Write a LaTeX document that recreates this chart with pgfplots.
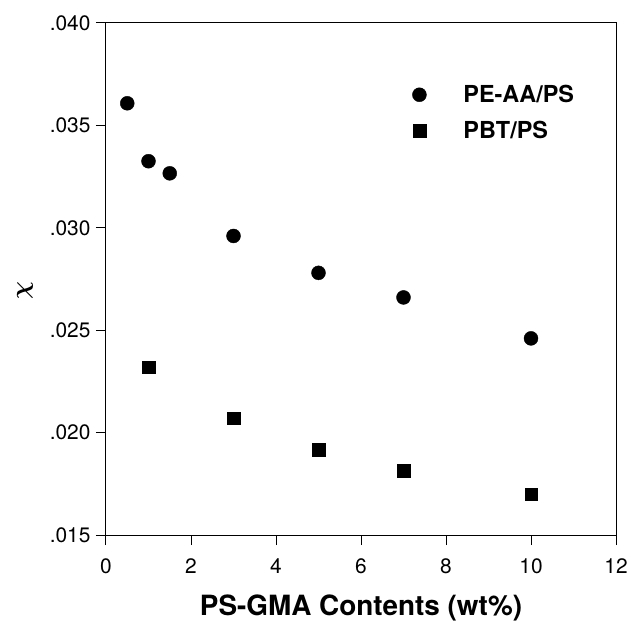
\documentclass[border=0pt]{standalone}
\usepackage{pgfplots}
\pgfplotsset{compat=1.18}
\usepackage{fontspec}
\usepackage{bm}
\setmainfont{TeX Gyre Heros}

\begin{document}
\begin{tikzpicture}[x=1bp,y=1bp]
  % fixed page size, same proportions as the original scan
  \useasboundingbox (-106,-86) rectangle (524,535);
  \begin{axis}[
      at={(0,0)}, anchor=south west,
      scale only axis,
      width=510bp, height=512bp,
      xmin=0, xmax=12,
      ymin=0.015, ymax=0.040,
      xtick={0,2,...,12},
      ytick={0.015,0.020,0.025,0.030,0.035,0.040},
      yticklabels={.015,.020,.025,.030,.035,.040},
      scaled y ticks=false,
      tick pos=left,
      tick align=outside,
      major tick length=10bp,
      axis line style={line width=1bp},
      every tick/.style={line width=1bp, black},
      /pgf/number format/assume math mode=true,
      ticklabel style={font=\fontsize{21}{24}\selectfont},
      xticklabel style={yshift=-10bp},
      yticklabel style={xshift=-2bp},
      xlabel={\bfseries PS-GMA Contents (wt\%)},
      xlabel style={font=\fontsize{28}{32}\selectfont, yshift=-14bp},
      ylabel={$\bm{\chi}$},
      ylabel style={font=\fontsize{30}{34}\selectfont, yshift=10bp, xshift=-12bp},
      legend style={draw=none, fill=none,
        at={(axis cs:7.135,0.03716)}, anchor=north west,
        font=\bfseries\fontsize{23.5}{27}\selectfont,
        row sep=13bp,
        nodes={inner xsep=8bp},
        /tikz/every odd column/.append style={column sep=29bp}},
      legend cell align=left,
    ]
    \addplot[only marks, mark=*, mark size=7bp, black]
      coordinates {
        (0.5,0.03608) (1,0.03325) (1.5,0.03266) (3,0.02960)
        (5,0.02780) (7,0.02660) (10,0.02460)
      };
    \addlegendentry{PE-AA/PS}
    \addplot[only marks, mark=square*, mark size=6.3bp, black]
      coordinates {
        (1,0.02320) (3,0.02070) (5,0.01917) (7,0.01814) (10,0.01700)
      };
    \addlegendentry{PBT/PS}
  \end{axis}
\end{tikzpicture}
\end{document}
